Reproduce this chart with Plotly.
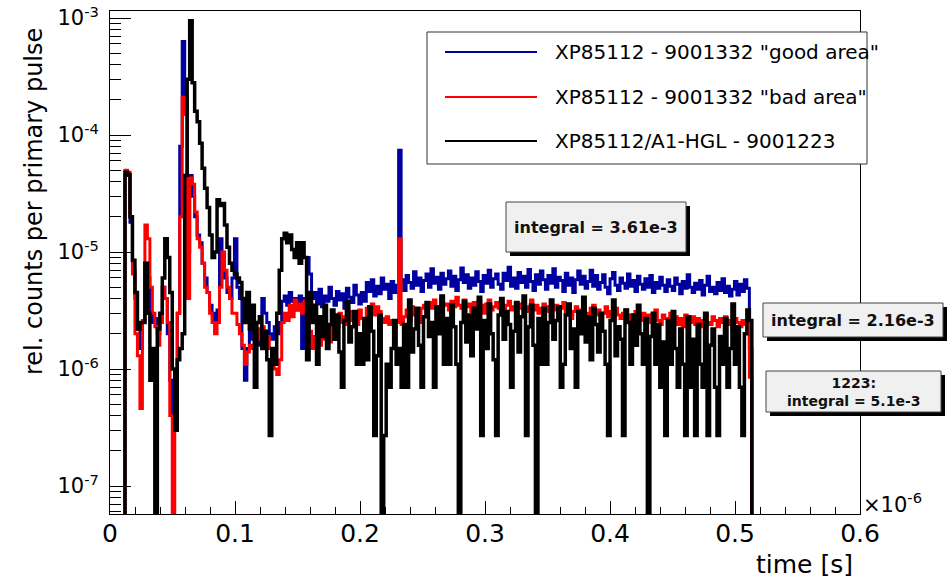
import numpy as np
import plotly.graph_objects as go

# ---------------- data (time in units of 1e-6 s, values in units of 1e-6) -------------
BIN_START = 0.012
BIN_WIDTH = 0.00199
VALUE_UNIT = 1e-6

good_area = [
    45, 45, 18, 7, 4, 2.2, 1.5, 2.5, 8, 6,
    3, 2.5, 2.7, 2, 2.5, 5, 4, 2, 0.8, 0.4,
    0.35, 3, 80, 630, 200, 10, 45, 30, 20, 14,
    12, 8, 6, 4.5, 3.5, 3, 2.5, 3.2, 13, 8,
    6, 4.5, 4, 6, 13, 5, 4, 1.5, 0.8, 1.5,
    2.3, 1.8, 2, 1.6, 2.2, 4, 3, 2.5, 2, 1.8,
    2.3, 2, 2.5, 3.8, 4.2, 3.5, 4.5, 3.8, 4, 3.2,
    4.2, 1.5, 4, 9, 6.5, 4, 4.5, 3.6, 4.8, 3.4,
    4.2, 3.8, 5, 4, 3.5, 4.6, 3.9, 4.4, 3.3, 4.9,
    4.1, 3.7, 5.2, 4.3, 3.6, 4.5, 3.8, 5.5, 4.6, 5.8,
    4.2, 5.1, 4.4, 6, 4.8, 5.3, 4, 5.6, 4.5, 5.2,
    74, 5.8, 4.7, 6.3, 5.5, 4.9, 6.8, 5.2, 6, 4.6,
    5.7, 6.5, 5, 7.2, 5.4, 6.1, 4.8, 6.6, 5.3, 5.9,
    6.9, 5.1, 6.2, 4.7, 5.8, 7.3, 5.5, 6.4, 4.9, 6,
    5.2, 6.8, 5.6, 4.6, 6.3, 5.4, 7, 5, 5.9, 6.5,
    5.3, 4.8, 6.6, 5.7, 7.4, 5.1, 6, 4.9, 6.7, 5.5,
    6.2, 5, 7.1, 5.6, 4.7, 6.4, 5.3, 6.9, 5.8, 4.8,
    6.3, 5.4, 7.2, 5, 6.1, 5.7, 4.6, 6.6, 5.2, 6,
    4.5, 5.8, 6.9, 5.3, 6.2, 4.9, 5.6, 7, 5.1, 6.3,
    4.8, 5.5, 6.4, 5, 4.4, 5.9, 6.7, 5.2, 4.7, 6,
    5.4, 4.9, 6.5, 5.1, 5.7, 4.6, 6.2, 5.3, 4.8, 5.9,
    5, 6.3, 4.5, 5.5, 4.9, 6.1, 5.2, 4.6, 5.8, 5.1,
    4.7, 6, 5.3, 4.4, 5.6, 4.9, 6.4, 5, 4.5, 5.4,
    4.8, 5.7, 4.3, 5.2, 6.2, 4.6, 5, 4.4, 5.5, 4.7,
    5.9, 4.5, 5.1, 4.2, 4.8, 5.6, 4.3, 5.3, 4.6, 5.8,
    4.9, 1.5,
]

bad_area = [
    50, 48, 20, 6.5, 2, 1.3, 0.46, 2.6, 17, 13,
    5, 3, 2.3, 1.6, 2.5, 5, 4, 2.5, 0.4, 0,
    0.4, 3, 20, 210, 150, 4, 43, 38, 22, 13,
    11, 8, 5, 4.5, 3, 2.5, 2, 2.5, 5, 10,
    7, 5, 4, 3, 3, 2.4, 2, 1.6, 1.1, 1.4,
    1.6, 1.5, 2, 2.2, 1.8, 2.3, 1.6, 1.9, 1.5, 1.2,
    1, 0.9, 1.2, 2.5, 3, 2.6, 3.5, 2.8, 3.9, 3.2,
    3.6, 3, 3.8, 2.3, 2.1, 1.5, 1.9, 2.3, 1.6, 2.1,
    1.8, 2.2, 1.7, 2.4, 2.7, 2.3, 3, 2.5, 2.8, 2.4,
    3.1, 2.6, 2.9, 2.4, 3.2, 2.7, 2.5, 3.3, 3, 3.6,
    2.9, 3.4, 3.1, 2.7, 2.5, 2.8, 2.4, 2.6, 2.3, 2.5,
    13, 2.4, 2.8, 3.2, 2.6, 3.4, 2.9, 3.1, 2.5, 3.3,
    3.5, 3, 3.7, 3.3, 3.9, 3.4, 3.2, 4, 3.5, 3.6,
    3.2, 3.8, 3.4, 4.1, 3.5, 3.3, 3.9, 3.4, 3.6, 3.1,
    3.7, 3.3, 3.8, 3.5, 3, 3.6, 3.9, 3.2, 3.4, 3.7,
    3.3, 3.6, 3.1, 3.5, 3.8, 3.2, 3.4, 2.9, 3.6, 3.3,
    3.7, 3.1, 3.4, 3.9, 3.2, 3.5, 3, 3.3, 3.6, 3.1,
    3.4, 2.8, 3.2, 3.5, 2.9, 3.3, 3.7, 3, 3.2, 2.7,
    3.1, 3.4, 2.9, 3.2, 3.6, 3, 2.8, 3.3, 3.5, 2.9,
    3.2, 2.7, 3, 3.4, 2.8, 3.1, 2.6, 3.3, 2.9, 2.7,
    3, 3.2, 2.6, 2.9, 2.5, 3.1, 2.8, 2.6, 3, 2.7,
    2.9, 2.5, 2.8, 3.2, 2.6, 2.4, 2.9, 2.7, 2.5, 3,
    2.6, 2.8, 2.4, 2.7, 2.3, 2.9, 2.6, 2.5, 2.8, 2.4,
    2.7, 2.3, 2.6, 2.9, 2.5, 2.4, 2.8, 2.6, 2.3, 2.7,
    2.5, 2.8, 2.4, 2.6, 2.2, 2.7, 2.5, 2.3, 2.6, 2.4,
    2.5, 0.85,
]

hgl = [
    48, 46, 20, 8.5, 4.5, 2.2, 2.5, 2.5, 8, 3,
    0.8, 1.5, 0, 2.2, 3, 6, 13, 9, 4.5, 1,
    0.3, 1.2, 1.5, 2, 45, 300, 950, 280, 160, 130,
    85, 52, 35, 24, 14, 9, 10, 28, 25, 26,
    17, 11, 8, 7, 6.5, 6, 5.5, 4, 2.5, 4.5,
    2.2, 3.5, 0.7, 2.5, 2.8, 1.5, 2.1, 1.2, 0.27, 1.5,
    1.1, 3, 7, 13, 14.5, 12, 14, 10.5, 9, 12,
    8, 12, 9, 1.2, 4.5, 2.5, 3.5, 1.1, 2.8, 1.9,
    3.5, 1.5, 2.4, 3.2, 1.8, 2.9, 1.4, 0.7, 2.6, 3.8,
    1.7, 2.3, 3.1, 1.1, 2, 1.1, 2.7, 1.2, 3.4, 2.1,
    0.27, 1.3, 2.9, 0, 0.27, 1.1, 0.7, 1.5, 2.6, 1.1,
    1.5, 0.7, 2.4, 0.7, 3.9, 1.4, 2.2, 3.3, 1.6, 0.7,
    2.8, 3.7, 1.9, 2.5, 0.7, 3.4, 2, 4.2, 1.1, 2.7,
    1.1, 3.5, 2.3, 1.1, 0, 2.5, 3.8, 1.7, 2.9, 1.3,
    3.3, 2.2, 4.1, 0.27, 2.6, 1.5, 3.6, 2, 1.2, 0.27,
    2.9, 4, 1.8, 3.1, 2.4, 0.7, 2.1, 3.7, 1.4, 2.8,
    4.2, 0.27, 2.3, 3.5, 1.6, 0, 2.7, 1.1, 3.3, 1.1,
    2.5, 3.9, 1.8, 2.6, 3.4, 0.7, 1.1, 2.9, 3.6, 1.5,
    2.2, 0.7, 3.1, 2, 4.1, 1.7, 2.8, 1.2, 3.3, 2.4,
    1.4, 3, 2.1, 1.1, 0.27, 2.6, 3.9, 1.3, 2.3, 1.8,
    0.27, 3.2, 2.5, 1.1, 2.9, 1.6, 3.5, 2, 1.1, 2.7,
    0, 1.9, 3, 1.1, 2.4, 0.7, 1.7, 0.27, 2.6, 1.1,
    3.1, 1.5, 0.7, 2.2, 1.1, 0.27, 2.8, 0.7, 1.8, 0.27,
    2.4, 1.1, 0.7, 3, 0.27, 1.6, 2.2, 0.7, 0.27, 1.9,
    1.1, 2.7, 0.7, 1.5, 3.6, 1.1, 2.3, 0.7, 0.27, 2,
    3.2, 2.6,
]

series_names = ['XP85112 - 9001332 "good area"',
                'XP85112 - 9001332 "bad area"',
                'XP85112/A1-HGL - 9001223']
series_values = [good_area, bad_area, hgl]
series_colors = ['#0000a0', '#ff0000', '#000000']
series_widths = [3.0, 3.0, 3.5]

x_tick_vals = [0, 0.1, 0.2, 0.3, 0.4, 0.5, 0.6]
y_tick_vals = [1e-7, 1e-6, 1e-5, 1e-4, 1e-3]
y_tick_text = ['10<sup>-7</sup>', '10<sup>-6</sup>', '10<sup>-5</sup>',
               '10<sup>-4</sup>', '10<sup>-3</sup>']
integral_labels = ['integral = 3.61e-3', 'integral = 2.16e-3',
                   '1223:<br>integral = 5.1e-3']

x_title = 'time [s]'
y_title = 'rel. counts per primary pulse'
x_exponent = '\u00d710<sup>-6</sup>'

# ---------------- layout geometry -------------
W, H = 952, 579
PL, PR, PT, PB = 110, 860, 11, 514     # plot area in pixels
FONT = 'DejaVu Sans'
FLOOR = 1e-12   # empty bins drawn down off the log axis


def px(x):
    return (x - PL) / (PR - PL)


def py(y):
    return (PB - y) / (PB - PT)


def step_xy(values):
    n = len(values)
    edges = BIN_START + BIN_WIDTH * np.arange(n + 1)
    v = np.asarray(values, dtype=float) * VALUE_UNIT
    v = np.where(v > 0, v, FLOOR)
    xs = np.concatenate([[edges[0]], edges[:-1], [edges[-1]]])
    ys = np.concatenate([[FLOOR], v, [FLOOR]])
    return xs, ys


fig = go.Figure()
for name, vals, col, lw in zip(series_names, series_values, series_colors, series_widths):
    xs, ys = step_xy(vals)
    fig.add_trace(go.Scatter(x=xs, y=ys, mode='lines', name=name,
                             line=dict(color=col, width=lw, shape='hv'),
                             showlegend=False, hoverinfo='skip'))

minor_y = [m * 10.0 ** e for e in range(-8, -2) for m in range(2, 10)]

fig.update_layout(
    width=W, height=H,
    margin=dict(l=PL, r=W - PR, t=PT, b=H - PB, pad=0, autoexpand=False),
    paper_bgcolor='white', plot_bgcolor='white',
    font=dict(family=FONT, color='black'),
    xaxis=dict(range=[0, 0.6], tickmode='array', tickvals=x_tick_vals,
               ticks='inside', ticklen=13, tickwidth=1, tickcolor='black',
               showline=True, linecolor='black', linewidth=1, mirror=True,
               showgrid=False, zeroline=False, automargin=False,
               tickfont=dict(family=FONT, size=25, color='black'),
               ticklabelstandoff=-3,
               minor=dict(ticks='inside', ticklen=7, dtick=0.02, tickcolor='black',
                          showgrid=False)),
    yaxis=dict(type='log', range=[-7.239, -2.940], tickmode='array',
               tickvals=y_tick_vals, ticktext=y_tick_text,
               ticks='inside', ticklen=21, tickwidth=1, tickcolor='black',
               showline=True, linecolor='black', linewidth=1, mirror=True,
               showgrid=False, zeroline=False, automargin=False,
               tickfont=dict(family=FONT, size=21, color='black'),
               ticklabelstandoff=6,
               minor=dict(ticks='inside', ticklen=11, tickvals=minor_y,
                          tickcolor='black', showgrid=False)),
)

shapes = []
annotations = []

# legend box (manual, ROOT style)
LX0, LY0, LX1, LY1 = 427, 32, 867, 164
shapes.append(dict(type='rect', xref='paper', yref='paper',
                   x0=px(LX0), x1=px(LX1), y0=py(LY1), y1=py(LY0),
                   line=dict(color='#333333', width=1), fillcolor='white', layer='above'))
rows_y = [52, 97, 141]
for name, col, ry in zip(series_names, series_colors, rows_y):
    shapes.append(dict(type='line', xref='paper', yref='paper',
                       x0=px(445), x1=px(537), y0=py(ry), y1=py(ry),
                       line=dict(color=col, width=2), layer='above'))
    annotations.append(dict(xref='paper', yref='paper', x=px(553), y=py(ry),
                            xanchor='left', yanchor='middle', showarrow=False,
                            text=name,
                            font=dict(family=FONT, size=20, color='black')))

# integral boxes with shadow
boxes = [(506, 202, 686, 252, 16), (763, 303, 943, 337, 16), (766, 371, 941, 412, 14)]
for (bx0, by0, bx1, by1, fs), lab in zip(boxes, integral_labels):
    shapes.append(dict(type='rect', xref='paper', yref='paper',
                       x0=px(bx0 + 4), x1=px(bx1 + 4), y0=py(by1 + 4), y1=py(by0 + 4),
                       line=dict(width=0), fillcolor='black', layer='above'))
    shapes.append(dict(type='rect', xref='paper', yref='paper',
                       x0=px(bx0), x1=px(bx1), y0=py(by1), y1=py(by0),
                       line=dict(color='#444444', width=1), fillcolor='#f0f0f0', layer='above'))
    annotations.append(dict(xref='paper', yref='paper', x=px((bx0 + bx1) / 2),
                            y=py((by0 + by1) / 2), xanchor='center', yanchor='middle',
                            showarrow=False, text='<b>' + lab.replace('<br>', '</b><br><b>') + '</b>',
                            font=dict(family=FONT, size=fs, color='#111111')))

# axis titles (ROOT style, right aligned)
annotations.append(dict(xref='paper', yref='paper', x=px(34), y=py(202),
                        xanchor='center', yanchor='middle', textangle=-90, showarrow=False,
                        text=y_title, font=dict(family=FONT, size=24, color='black')))
annotations.append(dict(xref='paper', yref='paper', x=px(855), y=py(564),
                        xanchor='right', yanchor='middle', showarrow=False,
                        text=x_title, font=dict(family=FONT, size=25, color='black')))
annotations.append(dict(xref='paper', yref='paper', x=px(861), y=py(519),
                        xanchor='left', yanchor='bottom', showarrow=False,
                        text=x_exponent, font=dict(family=FONT, size=21, color='black')))

fig.update_layout(shapes=shapes, annotations=annotations)
fig.write_html('out.html')
